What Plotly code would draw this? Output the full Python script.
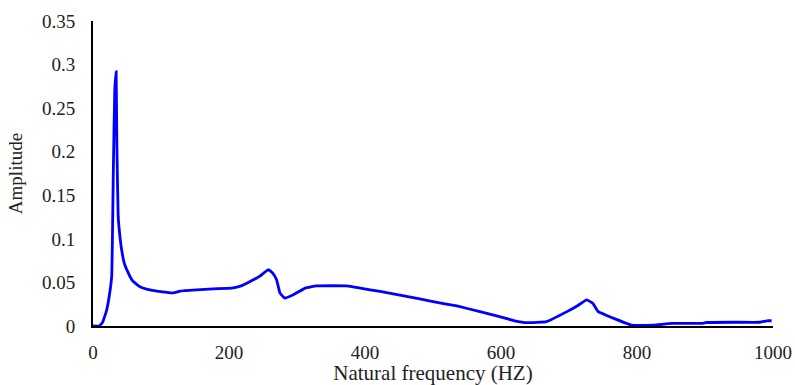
import plotly.graph_objects as go

freq = [0, 9, 14, 20, 24, 27.5, 30, 32, 34, 35, 37, 40, 42, 46, 49.5, 58, 69, 80, 94, 118, 128, 152, 177, 204, 218, 231, 245, 258, 264, 270, 275, 282, 294.5, 312, 329, 373, 393, 422, 461, 500, 535, 569, 598, 620, 638, 667, 697, 712, 726, 735, 743, 765, 792, 824, 851, 897, 902, 942, 981, 991, 998]
amp = [0, 0, 0.004, 0.018, 0.035, 0.057, 0.184, 0.27, 0.292, 0.215, 0.126, 0.1, 0.088, 0.072, 0.065, 0.052, 0.045, 0.042, 0.040, 0.038, 0.040, 0.0415, 0.0427, 0.0435, 0.046, 0.051, 0.057, 0.0647, 0.061, 0.053, 0.0377, 0.032, 0.0358, 0.0435, 0.046, 0.046, 0.0435, 0.0396, 0.034, 0.028, 0.023, 0.0165, 0.0107, 0.006, 0.0038, 0.005, 0.0165, 0.023, 0.030, 0.026, 0.0165, 0.009, 0.001, 0.001, 0.003, 0.003, 0.004, 0.0043, 0.0043, 0.006, 0.006]

x_ticks = [0, 200, 400, 600, 800, 1000]
y_ticks = [0, 0.05, 0.1, 0.15, 0.2, 0.25, 0.3, 0.35]
y_labels = ["0", "0.05", "0.1", "0.15", "0.2", "0.25", "0.3", "0.35"]

fig = go.Figure(go.Scatter(x=freq, y=amp, mode="lines",
                           line=dict(color="#0000FF", width=2.8, shape="spline", smoothing=0.3)))

font = dict(family="Liberation Serif, Times New Roman, serif", size=19, color="#222222")
title_font = dict(family="Liberation Serif, Times New Roman, serif", size=21, color="#222222")
fig.update_layout(
    width=795, height=385,
    margin=dict(l=93, r=22, t=21, b=59),
    paper_bgcolor="white", plot_bgcolor="white",
    showlegend=False,
    font=font,
    xaxis=dict(range=[0, 1000], tickvals=x_ticks, showgrid=False, zeroline=False, automargin=False,
               showline=True, linecolor="black", linewidth=2, ticks="outside", ticklen=8, tickcolor="rgba(0,0,0,0)",
               title=dict(text="Natural frequency (HZ)", standoff=6, font=title_font)),
    yaxis=dict(range=[0, 0.35], tickvals=y_ticks, ticktext=y_labels, showgrid=False, zeroline=False, automargin=False,
               showline=True, linecolor="black", linewidth=2, ticks="outside", ticklen=12, tickcolor="rgba(0,0,0,0)",
               title=dict(text="Amplitude", standoff=14, font=font)),
)
fig.write_html("out.html")
